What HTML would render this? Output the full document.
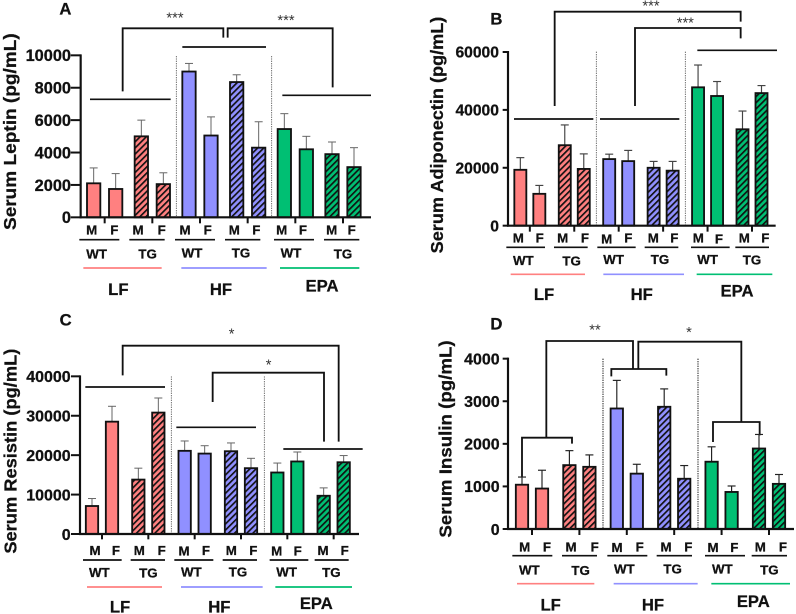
<!DOCTYPE html>
<html lang="en">
<head>
<meta charset="utf-8">
<title>Serum adipokines</title>
<style>
html,body{margin:0;padding:0;background:#fff;}
svg{display:block;filter:blur(0.3px);}
text{font-family:"Liberation Sans",Arial,sans-serif;font-weight:bold;fill:#111;stroke:#111;stroke-width:0.8px;}
.sx{font-size:40px;text-anchor:middle;}
.gt{font-size:40px;text-anchor:middle;}
.grp{font-size:50px;text-anchor:middle;}
.star{font-size:44px;text-anchor:middle;font-weight:normal;stroke-width:0;fill:#333;}
.let{font-size:50px;}
.ttl{font-size:54px;}
.br{fill:none;stroke:#111;stroke-width:5.5;stroke-linejoin:miter;}
.ul{stroke:#111;stroke-width:5;}
.dv{stroke:#555;stroke-width:2.5;stroke-dasharray:4 3;}
</style>
</head>
<body>
<svg id="fig" width="796" height="614" viewBox="0 0 796 614" xmlns="http://www.w3.org/2000/svg">
<defs>
<pattern id="h-red" patternUnits="userSpaceOnUse" width="13" height="13" patternTransform="rotate(45)"><rect width="13" height="13" fill="#ff8080"/><rect width="5" height="13" fill="#111"/></pattern>
<pattern id="h-blue" patternUnits="userSpaceOnUse" width="13" height="13" patternTransform="rotate(45)"><rect width="13" height="13" fill="#9090ff"/><rect width="5" height="13" fill="#111"/></pattern>
<pattern id="h-green" patternUnits="userSpaceOnUse" width="13" height="13" patternTransform="rotate(45)"><rect width="13" height="13" fill="#00bf73"/><rect width="5" height="13" fill="#111"/></pattern>
</defs>

<g id="panel-a" transform="scale(0.33333)">
<text class="let" x="178" y="43">A</text>
<text class="ttl" transform="translate(48,690) rotate(-90)" textLength="590" lengthAdjust="spacingAndGlyphs">Serum Leptin (pg/mL)</text>
<text class="star" x="525" y="68">***</text>
<text class="star" x="858" y="75">***</text>
<polyline class="br" points="368,274 368,85 670,85 670,113"/>
<polyline class="br" points="683,113 683,85 998,85 998,262"/>
<line class="ul" x1="270" x2="512" y1="298" y2="298"/>
<line class="ul" x1="547" x2="798" y1="141" y2="141"/>
<line class="ul" x1="847" x2="1113" y1="286" y2="286"/>
<line class="dv" x1="529" x2="529" y1="168" y2="652"/>
<line class="dv" x1="815" x2="815" y1="168" y2="652"/>
<g>
<text class="sx" x="275" y="704">M</text><text class="sx" x="343" y="704">F</text><text class="sx" x="414" y="704">M</text><text class="sx" x="485" y="704">F</text><text class="sx" x="555" y="704">M</text><text class="sx" x="623" y="704">F</text><text class="sx" x="703" y="704">M</text><text class="sx" x="769" y="704">F</text><text class="sx" x="845" y="704">M</text><text class="sx" x="909" y="704">F</text><text class="sx" x="995" y="704">M</text><text class="sx" x="1055" y="704">F</text>
</g>
<g>
<line class="ul" x1="238" x2="358" y1="719" y2="719"/><line class="ul" x1="388" x2="494" y1="719" y2="719"/><line class="ul" x1="525" x2="645" y1="719" y2="719"/><line class="ul" x1="675" x2="781" y1="719" y2="719"/><line class="ul" x1="822" x2="942" y1="719" y2="719"/><line class="ul" x1="972" x2="1078" y1="719" y2="719"/>
</g>
<g>
<text class="gt" x="290" y="775">WT</text><text class="gt" x="443" y="775">TG</text><text class="gt" x="576" y="772">WT</text><text class="gt" x="723" y="772">TG</text><text class="gt" x="873" y="772">WT</text><text class="gt" x="1029" y="775">TG</text>
</g>
<line x1="250" x2="485" y1="804" y2="804" stroke="#ff8080" stroke-width="5"/>
<line x1="544" x2="800" y1="804" y2="804" stroke="#9090ff" stroke-width="5"/>
<line x1="840" x2="1078" y1="804" y2="804" stroke="#00bf73" stroke-width="5"/>
<text class="grp" x="355" y="885">LF</text>
<text class="grp" x="663" y="885">HF</text>
<text class="grp" x="966" y="875">EPA</text>
</g>

<g id="panel-b" transform="translate(398,0) scale(0.33333)">
<text class="let" x="277" y="73">B</text>
<text class="ttl" transform="translate(135,760) rotate(-90)" textLength="710" lengthAdjust="spacingAndGlyphs">Serum Adiponectin (pg/mL)</text>
<text class="star" x="759" y="32">***</text>
<text class="star" x="862" y="82">***</text>
<polyline class="br" points="470,318 470,35 1028,35 1028,65"/>
<polyline class="br" points="711,318 711,84 1028,84 1028,115"/>
<line class="ul" x1="348" x2="586" y1="357" y2="357"/>
<line class="ul" x1="606" x2="844" y1="357" y2="357"/>
<line class="ul" x1="898" x2="1137" y1="151" y2="151"/>
<line class="dv" x1="595" x2="595" y1="155" y2="677"/>
<line class="dv" x1="862" x2="862" y1="155" y2="677"/>
<g>
<text class="sx" x="361" y="728">M</text><text class="sx" x="425" y="728">F</text><text class="sx" x="494" y="728">M</text><text class="sx" x="561" y="728">F</text><text class="sx" x="626" y="730">M</text><text class="sx" x="691" y="728">F</text><text class="sx" x="766" y="728">M</text><text class="sx" x="829" y="728">F</text><text class="sx" x="901" y="728">M</text><text class="sx" x="963" y="730">F</text><text class="sx" x="1039" y="728">M</text><text class="sx" x="1102" y="728">F</text>
</g>
<g>
<line class="ul" x1="325" x2="441" y1="742" y2="742"/><line class="ul" x1="468" x2="569" y1="742" y2="742"/><line class="ul" x1="598" x2="713" y1="742" y2="742"/><line class="ul" x1="740" x2="841" y1="742" y2="742"/><line class="ul" x1="879" x2="995" y1="742" y2="742"/><line class="ul" x1="1012" x2="1113" y1="742" y2="742"/>
</g>
<g>
<text class="gt" x="376" y="795">WT</text><text class="gt" x="521" y="797">TG</text><text class="gt" x="647" y="792">WT</text><text class="gt" x="786" y="792">TG</text><text class="gt" x="929" y="792">WT</text><text class="gt" x="1062" y="794">TG</text>
</g>
<line x1="338" x2="561" y1="823" y2="823" stroke="#ff8080" stroke-width="5"/>
<line x1="616" x2="858" y1="823" y2="823" stroke="#9090ff" stroke-width="5"/>
<line x1="896" x2="1123" y1="823" y2="823" stroke="#00bf73" stroke-width="5"/>
<text class="grp" x="438" y="900">LF</text>
<text class="grp" x="731" y="900">HF</text>
<text class="grp" x="1017" y="890">EPA</text>
</g>

<g id="panel-c" transform="translate(0,307) scale(0.33333)">
<text class="let" x="179" y="55">C</text>
<text class="ttl" transform="translate(50,740) rotate(-90)" textLength="615" lengthAdjust="spacingAndGlyphs">Serum Resistin (pg/mL)</text>
<text class="star" x="695" y="95">*</text>
<text class="star" x="806" y="187">*</text>
<polyline class="br" points="368,205 368,116 1016,116 1016,404"/>
<polyline class="br" points="638,285 638,197 972,197 972,404"/>
<line class="ul" x1="256" x2="495" y1="240" y2="240"/>
<line class="ul" x1="529" x2="768" y1="361" y2="361"/>
<line class="ul" x1="850" x2="1088" y1="426" y2="426"/>
<line class="dv" x1="514" x2="514" y1="208" y2="681"/>
<line class="dv" x1="793" x2="793" y1="208" y2="681"/>
<g>
<text class="sx" x="285" y="744">M</text><text class="sx" x="348" y="744">F</text><text class="sx" x="418" y="744">M</text><text class="sx" x="485" y="744">F</text><text class="sx" x="552" y="745">M</text><text class="sx" x="618" y="744">F</text><text class="sx" x="694" y="744">M</text><text class="sx" x="760" y="744">F</text><text class="sx" x="830" y="745">M</text><text class="sx" x="893" y="745">F</text><text class="sx" x="969" y="744">M</text><text class="sx" x="1034" y="744">F</text>
</g>
<g>
<line class="ul" x1="249" x2="365" y1="759" y2="759"/><line class="ul" x1="392" x2="495" y1="759" y2="759"/><line class="ul" x1="523" x2="640" y1="759" y2="759"/><line class="ul" x1="668" x2="771" y1="759" y2="759"/><line class="ul" x1="809" x2="925" y1="759" y2="759"/><line class="ul" x1="944" x2="1046" y1="759" y2="759"/>
</g>
<g>
<text class="gt" x="298" y="810">WT</text><text class="gt" x="445" y="812">TG</text><text class="gt" x="574" y="808">WT</text><text class="gt" x="714" y="808">TG</text><text class="gt" x="860" y="808">WT</text><text class="gt" x="994" y="810">TG</text>
</g>
<line x1="261" x2="486" y1="840" y2="840" stroke="#ff8080" stroke-width="5"/>
<line x1="543" x2="788" y1="840" y2="840" stroke="#9090ff" stroke-width="5"/>
<line x1="826" x2="1056" y1="840" y2="840" stroke="#00bf73" stroke-width="5"/>
<text class="grp" x="360" y="917">LF</text>
<text class="grp" x="658" y="917">HF</text>
<text class="grp" x="949" y="906">EPA</text>
</g>

<g id="panel-d" transform="translate(398,307) scale(0.33333)">
<text class="let" x="277" y="68">D</text>
<text class="ttl" transform="translate(160,692) rotate(-90)" textLength="592" lengthAdjust="spacingAndGlyphs">Serum Insulin (pg/mL)</text>
<text class="star" x="591" y="82">**</text>
<text class="star" x="873" y="90">*</text>
<polyline class="br" points="372,510 372,392 522,392 522,410"/>
<polyline class="br" points="445,392 445,102 705,102 705,187"/>
<polyline class="br" points="640,208 640,186 805,186 805,206"/>
<polyline class="br" points="721,186 721,104 1030,104 1030,345"/>
<polyline class="br" points="945,405 945,345 1085,345 1085,385"/>
<line class="dv" x1="615" x2="615" y1="155" y2="666" style="stroke-width:4"/>
<line class="dv" x1="900" x2="900" y1="155" y2="666" style="stroke-width:4"/>
<g>
<text class="sx" x="380" y="733">M</text><text class="sx" x="447" y="733">F</text><text class="sx" x="519" y="733">M</text><text class="sx" x="590" y="733">F</text><text class="sx" x="657" y="735">M</text><text class="sx" x="725" y="733">F</text><text class="sx" x="804" y="733">M</text><text class="sx" x="871" y="733">F</text><text class="sx" x="945" y="735">M</text><text class="sx" x="1009" y="735">F</text><text class="sx" x="1087" y="733">M</text><text class="sx" x="1155" y="733">F</text>
</g>
<g>
<line class="ul" x1="343" x2="463" y1="746" y2="746"/><line class="ul" x1="492" x2="597" y1="746" y2="746"/><line class="ul" x1="628" x2="748" y1="746" y2="746"/><line class="ul" x1="776" x2="882" y1="746" y2="746"/><line class="ul" x1="921" x2="1041" y1="746" y2="746"/><line class="ul" x1="1061" x2="1167" y1="746" y2="746"/>
</g>
<g>
<text class="gt" x="394" y="802">WT</text><text class="gt" x="548" y="804">TG</text><text class="gt" x="679" y="800">WT</text><text class="gt" x="824" y="800">TG</text><text class="gt" x="973" y="800">WT</text><text class="gt" x="1114" y="802">TG</text>
</g>
<line x1="357" x2="589" y1="830" y2="830" stroke="#ff8080" stroke-width="5"/>
<line x1="647" x2="899" y1="830" y2="830" stroke="#9090ff" stroke-width="5"/>
<line x1="940" x2="1176" y1="830" y2="830" stroke="#00bf73" stroke-width="5"/>
<text class="grp" x="458" y="910">LF</text>
<text class="grp" x="765" y="910">HF</text>
<text class="grp" x="1066" y="900">EPA</text>
</g>
</svg>

<script>
var categories = ['LF WT M','LF WT F','LF TG M','LF TG F','HF WT M','HF WT F','HF TG M','HF TG F','EPA WT M','EPA WT F','EPA TG M','EPA TG F'];

var leptinMeans = [2100,1750,5000,2050,9000,5050,8350,4300,5450,4200,3900,3100];
var leptinErrors = [950,950,1000,700,500,1150,450,1600,950,800,750,1200];
var leptinTicks = [0,2000,4000,6000,8000,10000];

var adiponectinMeans = [19300,11000,27800,19600,23000,22300,20000,19000,47800,44800,33300,45800];
var adiponectinErrors = [4200,2900,7000,5200,1700,3700,2200,3200,7700,5000,6300,2600];
var adiponectinTicks = [0,20000,40000,60000];

var resistinMeans = [7100,28500,13800,30800,21100,20400,21000,16700,15600,18400,9700,18200];
var resistinErrors = [1900,3900,2900,3700,2500,2000,2100,2500,2400,2400,2000,1700];
var resistinTicks = [0,10000,20000,30000,40000];

var insulinMeans = [1040,950,1500,1460,2830,1300,2870,1180,1580,870,1890,1060];
var insulinErrors = [180,430,340,280,660,220,420,310,350,140,330,220];
var insulinTicks = [0,1000,2000,3000,4000];

var NS = 'http://www.w3.org/2000/svg';
var solidFills = {LF:'#ff8080', HF:'#9090ff', EPA:'#00bf73'};
var hatchFills = {LF:'url(#h-red)', HF:'url(#h-blue)', EPA:'url(#h-green)'};

function shape(parent, tag, attrs) {
  var el = document.createElementNS(NS, tag);
  for (var k in attrs) { el.setAttribute(k, attrs[k]); }
  parent.appendChild(el);
  return el;
}

function drawPanel(id, means, errors, ticks, geo) {
  var panel = document.getElementById(id);
  var yMax = ticks[ticks.length - 1];
  function yScale(v) { return geo.y0 - (v / yMax) * (geo.y0 - geo.yTop); }
  function xScale(i) { return geo.x0 + Math.floor(i / 2) * geo.pairStep + (i % 2) * geo.sexGap; }

  means.forEach(function (m, i) {
    var parts = categories[i].split(' ');
    var cx = xScale(i);
    var topY = yScale(m + errors[i]);
    var barY = yScale(m);

    var stem = shape(panel, 'line', {x1:cx, x2:cx, y1:barY, y2:topY, stroke:geo.errColor, 'stroke-width':geo.errWidth});
    
    

    var cap = shape(panel, 'line', {x1:cx - 12, x2:cx + 12, y1:topY, y2:topY, stroke:geo.errColor, 'stroke-width':geo.errWidth});
    
    

    var bar = shape(panel, 'rect', {
      x: cx - geo.barW / 2, y: barY, width: geo.barW, height: geo.y0 - barY,
      fill: parts[1] === 'TG' ? hatchFills[parts[0]] : solidFills[parts[0]],
      stroke: '#111', 'stroke-width': 5.5
    });
    
    

    if (i % 2 === 0) {
      var mid = cx + geo.sexGap / 2;
      var xt = shape(panel, 'line', {x1:mid, x2:mid, y1:geo.y0, y2:geo.y0 + geo.xTick, stroke:'#111', 'stroke-width':6});
      
      
    }
  });

  var yAxis = shape(panel, 'line', {x1:geo.axisX, x2:geo.axisX, y1:geo.yTop - 3, y2:geo.y0 + 3, stroke:'#111', 'stroke-width':6.5});
  
  

  var xAxis = shape(panel, 'line', {x1:geo.axisX - 3, x2:geo.axisEnd, y1:geo.y0, y2:geo.y0, stroke:'#111', 'stroke-width':6.5});
  
  

  ticks.forEach(function (t) {
    var y = yScale(t);
    var tk = shape(panel, 'line', {x1:geo.axisX - geo.yTick, x2:geo.axisX, y1:y, y2:y, stroke:'#111', 'stroke-width':6});
    
    

    var lb = shape(panel, 'text', {x:geo.labelX, y:y + geo.tickFont * 0.36, 'text-anchor':'end', 'font-size':geo.tickFont});
    lb.textContent = String(t);
    
    
  });
}

drawPanel('panel-a', leptinMeans, leptinErrors, leptinTicks,
  {x0:281, pairStep:143, sexGap:66, barW:40, y0:652, yTop:166, axisX:242, axisEnd:1113, yTick:30, xTick:18, labelX:213, tickFont:49, errColor:'#666', errWidth:3});
drawPanel('panel-b', adiponectinMeans, adiponectinErrors, adiponectinTicks,
  {x0:367, pairStep:133.3, sexGap:57, barW:36, y0:677, yTop:156, axisX:330, axisEnd:1133, yTick:16, xTick:18, labelX:303, tickFont:47, errColor:'#444', errWidth:3.5});
drawPanel('panel-c', resistinMeans, resistinErrors, resistinTicks,
  {x0:276, pairStep:139, sexGap:60, barW:37, y0:681, yTop:208, axisX:240, axisEnd:1077, yTick:27, xTick:16, labelX:212, tickFont:48, errColor:'#666', errWidth:3});
drawPanel('panel-d', insulinMeans, insulinErrors, insulinTicks,
  {x0:372, pairStep:142.2, sexGap:60, barW:37, y0:666, yTop:155, axisX:330, axisEnd:1188, yTick:16, xTick:18, labelX:305, tickFont:48, errColor:'#222', errWidth:3.5});
</script>
</body>
</html>
